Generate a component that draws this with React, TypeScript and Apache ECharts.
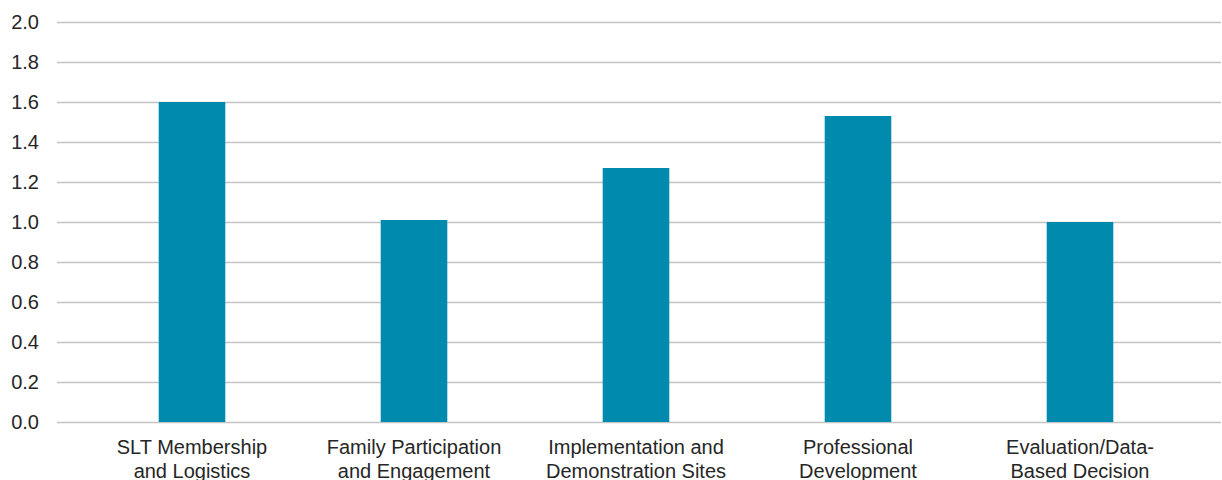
import React, { useEffect, useRef } from "react";
import * as echarts from "echarts";

// Category names (two-line labels) and the score for each area
const categories: string[] = [
  "SLT Membership\nand Logistics",
  "Family Participation\nand Engagement",
  "Implementation and\nDemonstration Sites",
  "Professional\nDevelopment",
  "Evaluation/Data-\nBased Decision\nMaking",
];
const scores: number[] = [1.6, 1.01, 1.27, 1.53, 1.0];

const yMin = 0;
const yMax = 2.0;
const yStep = 0.2;

const BAR_COLOR = "#008AAD";
const GRID_COLOR = "#C4C4C4";
const TEXT_COLOR = "#262626";
const FONT = "'Liberation Sans', Arial, sans-serif";

export default function App() {
  const ref = useRef<HTMLDivElement>(null);

  useEffect(() => {
    if (!ref.current) return;
    const chart = echarts.init(ref.current, undefined, { renderer: "svg" });
    chart.setOption({
      animation: false,
      backgroundColor: "#ffffff",
      textStyle: { fontFamily: FONT },
      grid: [
        // full-width grid carrying the value scale and horizontal rules
        { left: 57, right: 1, top: 22, bottom: 58, containLabel: false, outerBoundsMode: "none" },
        // inner grid where the categories and bars sit
        { left: 81, right: 31, top: 22, bottom: 58, containLabel: false, outerBoundsMode: "none" },
      ],
      xAxis: [
        { type: "value", gridIndex: 0, show: false, min: 0, max: 1 },
        {
          type: "category",
          gridIndex: 1,
          data: categories,
          axisLine: { show: false },
          axisTick: { show: false },
          axisLabel: {
            interval: 0,
            color: TEXT_COLOR,
            fontSize: 20,
            lineHeight: 24,
            margin: 13,
            fontFamily: FONT,
          },
        },
      ],
      yAxis: [
        {
          type: "value",
          gridIndex: 0,
          min: yMin,
          max: yMax,
          interval: yStep,
          axisLine: { show: false },
          axisTick: { show: false },
          axisLabel: {
            color: TEXT_COLOR,
            fontSize: 20,
            margin: 18,
            fontFamily: FONT,
            formatter: (v: number) => v.toFixed(1),
          },
          splitLine: { show: true, lineStyle: { color: GRID_COLOR, width: 1.3 } },
        },
        {
          type: "value",
          gridIndex: 1,
          min: yMin,
          max: yMax,
          interval: yStep,
          show: false,
          splitLine: { show: false },
        },
      ],
      series: [
        {
          type: "bar",
          xAxisIndex: 1,
          yAxisIndex: 1,
          data: scores,
          barWidth: "30%",
          itemStyle: { color: BAR_COLOR },
        },
      ],
    });
    return () => chart.dispose();
  }, []);

  return (
    <div
      ref={ref}
      style={{ position: "fixed", left: 0, top: 0, width: 1222, height: 480 }}
    />
  );
}
